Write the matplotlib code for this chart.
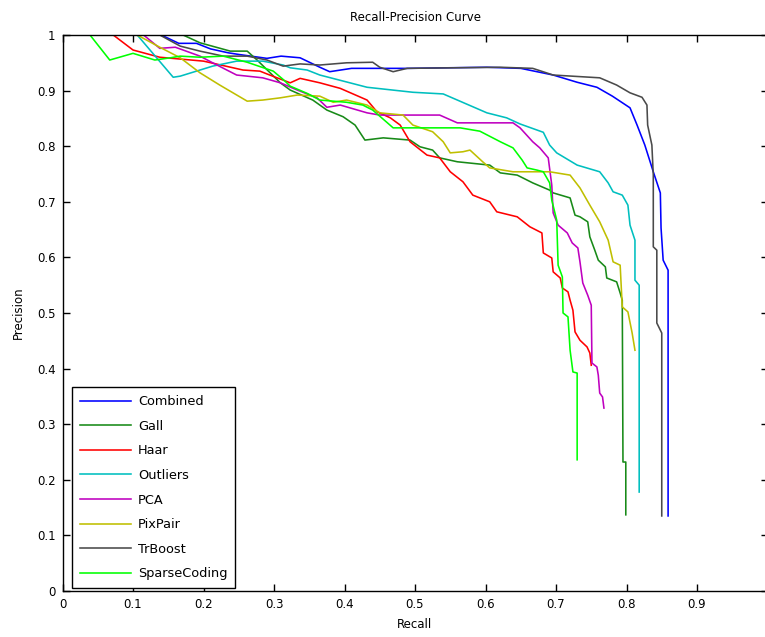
import matplotlib
matplotlib.use("Agg")
import matplotlib.pyplot as plt

# recall / precision pairs
combined_r = [0.14, 0.165, 0.19, 0.21, 0.235, 0.25, 0.29, 0.31, 0.337, 0.365, 0.379, 0.41, 0.489, 0.602,
              0.65, 0.696, 0.73, 0.758, 0.78, 0.805, 0.815, 0.826, 0.838, 0.848, 0.849, 0.852, 0.859, 0.859]
combined_p = [1.0, 0.985, 0.985, 0.975, 0.968, 0.965, 0.958, 0.962, 0.959, 0.942, 0.934, 0.94, 0.94, 0.942,
              0.94, 0.928, 0.915, 0.906, 0.89, 0.869, 0.838, 0.802, 0.754, 0.716, 0.653, 0.595, 0.577, 0.135]

gall_r = [0.171, 0.195, 0.238, 0.262, 0.276, 0.309, 0.323, 0.355, 0.375, 0.398, 0.415, 0.429, 0.455, 0.493,
          0.507, 0.525, 0.535, 0.56, 0.606, 0.621, 0.645, 0.667, 0.691, 0.696, 0.72, 0.727, 0.734, 0.745,
          0.748, 0.755, 0.76, 0.77, 0.772, 0.786, 0.791, 0.794, 0.795, 0.799, 0.799]
gall_p = [1.0, 0.986, 0.971, 0.971, 0.955, 0.914, 0.901, 0.883, 0.865, 0.853, 0.838, 0.811, 0.815, 0.811,
          0.799, 0.793, 0.779, 0.772, 0.766, 0.752, 0.748, 0.734, 0.721, 0.716, 0.707, 0.676, 0.673, 0.664,
          0.637, 0.613, 0.595, 0.583, 0.563, 0.556, 0.536, 0.523, 0.232, 0.232, 0.137]

haar_r = [0.072, 0.1, 0.138, 0.2, 0.256, 0.28, 0.294, 0.323, 0.337, 0.365, 0.394, 0.432, 0.446, 0.465,
          0.479, 0.493, 0.517, 0.535, 0.55, 0.568, 0.582, 0.606, 0.616, 0.645, 0.663, 0.68, 0.682, 0.694,
          0.696, 0.706, 0.709, 0.717, 0.72, 0.724, 0.727, 0.734, 0.744, 0.748, 0.75]
haar_p = [1.0, 0.973, 0.96, 0.953, 0.937, 0.935, 0.928, 0.914, 0.922, 0.914, 0.904, 0.883, 0.862, 0.851,
          0.838, 0.808, 0.784, 0.779, 0.754, 0.736, 0.712, 0.7, 0.682, 0.673, 0.655, 0.644, 0.608, 0.599,
          0.574, 0.563, 0.545, 0.538, 0.523, 0.505, 0.466, 0.451, 0.439, 0.428, 0.406]

outliers_r = [0.106, 0.157, 0.167, 0.213, 0.247, 0.284, 0.313, 0.323, 0.347, 0.365, 0.432, 0.497, 0.54,
              0.602, 0.63, 0.649, 0.682, 0.691, 0.701, 0.73, 0.762, 0.774, 0.781, 0.794, 0.802, 0.805,
              0.812, 0.812, 0.818, 0.818]
outliers_p = [1.0, 0.924, 0.926, 0.944, 0.953, 0.953, 0.946, 0.941, 0.937, 0.928, 0.906, 0.897, 0.894,
              0.86, 0.851, 0.84, 0.825, 0.802, 0.788, 0.766, 0.754, 0.734, 0.718, 0.712, 0.694, 0.658,
              0.631, 0.559, 0.55, 0.178]

pca_r = [0.115, 0.138, 0.16, 0.195, 0.213, 0.247, 0.284, 0.309, 0.333, 0.361, 0.375, 0.394, 0.432, 0.45,
         0.535, 0.56, 0.639, 0.649, 0.667, 0.677, 0.689, 0.694, 0.696, 0.703, 0.716, 0.723, 0.731, 0.734,
         0.738, 0.745, 0.75, 0.751, 0.758, 0.76, 0.762, 0.766, 0.768]
pca_p = [1.0, 0.976, 0.978, 0.962, 0.95, 0.928, 0.923, 0.914, 0.901, 0.887, 0.87, 0.874, 0.86, 0.856,
         0.856, 0.842, 0.842, 0.833, 0.808, 0.797, 0.779, 0.73, 0.68, 0.658, 0.644, 0.626, 0.617, 0.592,
         0.554, 0.532, 0.514, 0.41, 0.403, 0.388, 0.356, 0.349, 0.329]

pixpair_r = [0.106, 0.138, 0.167, 0.195, 0.223, 0.262, 0.284, 0.309, 0.333, 0.365, 0.384, 0.403, 0.432,
             0.45, 0.483, 0.497, 0.525, 0.54, 0.55, 0.568, 0.578, 0.596, 0.606, 0.639, 0.691, 0.72, 0.734,
             0.748, 0.762, 0.774, 0.781, 0.791, 0.794, 0.802, 0.808, 0.812]
pixpair_p = [1.0, 0.978, 0.959, 0.932, 0.91, 0.881, 0.883, 0.887, 0.892, 0.89, 0.879, 0.883, 0.874,
             0.86, 0.856, 0.838, 0.826, 0.808, 0.788, 0.79, 0.793, 0.772, 0.761, 0.754, 0.754, 0.748, 0.725,
             0.694, 0.664, 0.631, 0.592, 0.586, 0.511, 0.502, 0.464, 0.433]

trboost_r = [0.138, 0.167, 0.195, 0.228, 0.262, 0.29, 0.313, 0.337, 0.365, 0.403, 0.44, 0.45, 0.469, 0.489,
             0.621, 0.667, 0.696, 0.762, 0.786, 0.805, 0.822, 0.829, 0.83, 0.836, 0.838, 0.838, 0.843,
             0.843, 0.85, 0.85]
trboost_p = [1.0, 0.98, 0.971, 0.962, 0.962, 0.955, 0.944, 0.948, 0.946, 0.95, 0.951, 0.942, 0.934, 0.94,
             0.942, 0.94, 0.928, 0.923, 0.91, 0.896, 0.888, 0.874, 0.838, 0.802, 0.748, 0.619, 0.613,
             0.482, 0.464, 0.135]

sparse_r = [0.039, 0.067, 0.1, 0.131, 0.153, 0.167, 0.195, 0.228, 0.262, 0.299, 0.313, 0.323, 0.347, 0.365,
            0.403, 0.426, 0.44, 0.46, 0.469, 0.564, 0.592, 0.621, 0.639, 0.652, 0.659, 0.673, 0.682, 0.691,
            0.694, 0.701, 0.703, 0.709, 0.71, 0.717, 0.72, 0.724, 0.73, 0.73]
sparse_p = [1.0, 0.955, 0.967, 0.955, 0.959, 0.962, 0.96, 0.962, 0.951, 0.935, 0.92, 0.908, 0.895, 0.883,
            0.879, 0.874, 0.865, 0.843, 0.833, 0.833, 0.827, 0.808, 0.797, 0.775, 0.761, 0.757, 0.754, 0.734,
            0.703, 0.667, 0.586, 0.565, 0.5, 0.493, 0.433, 0.394, 0.392, 0.236]

series = [
    ("Combined", combined_r, combined_p, "#0000ff"),
    ("Gall", gall_r, gall_p, "#188a18"),
    ("Haar", haar_r, haar_p, "#ff0000"),
    ("Outliers", outliers_r, outliers_p, "#00bfbf"),
    ("PCA", pca_r, pca_p, "#bf00bf"),
    ("PixPair", pixpair_r, pixpair_p, "#bfbf00"),
    ("TrBoost", trboost_r, trboost_p, "#4a4a4a"),
    ("SparseCoding", sparse_r, sparse_p, "#00ff00"),
]

plt.rcParams['font.family'] = ['DejaVu Sans']

fig = plt.figure(figsize=(7.65, 6.37), dpi=100)
ax = fig.add_axes([62.5 / 765, 46 / 637, 705 / 765, 556 / 637])

for name, r, p, c in series:
    ax.plot(r, p, color=c, lw=1.15, label=name)

ax.set_xlim(0, 1)
ax.set_ylim(0, 1)
ticks = [i / 10 for i in range(11)]
ylabels = ["0"] + ["%.1f" % t for t in ticks[1:-1]] + ["1"]
# the "1" under the right edge falls outside the picture in the reference
xlabels = ylabels[:-1] + [""]
ax.set_xticks(ticks)
ax.set_xticklabels(xlabels)
ax.set_yticks(ticks)
ax.set_yticklabels(ylabels)
ax.tick_params(direction='in', top=True, right=True, labelsize=8.5, length=5, width=1, pad=5)
for s in ax.spines.values():
    s.set_linewidth(1.0)

ax.set_title("Recall-Precision Curve", fontsize=8.5, pad=10)
ax.set_xlabel("Recall", fontsize=8.5, labelpad=5)
ax.set_ylabel("Precision", fontsize=8.5, labelpad=9)

leg = ax.legend(loc='lower left', bbox_to_anchor=(0.0135, 0.005), borderaxespad=0,
                fontsize=9.3, fancybox=False, edgecolor='black', framealpha=1,
                handlelength=4.0, handletextpad=0.5, labelspacing=0.9, borderpad=0.6)
leg.get_frame().set_linewidth(1.0)

fig.savefig("out.png", dpi=100)
